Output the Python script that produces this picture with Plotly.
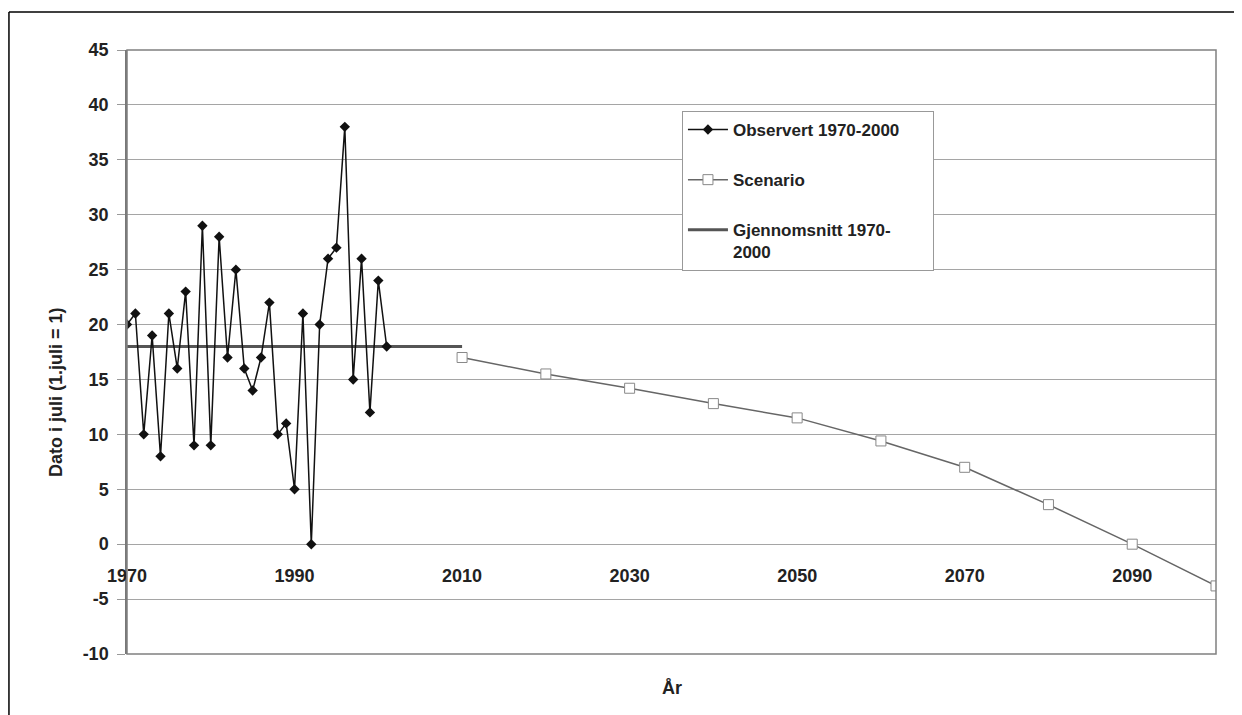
import plotly.graph_objects as go

# ---- data ----
obs_years = list(range(1970, 2002))
obs_values = [20, 21, 10, 19, 8, 21, 16, 23, 9, 29, 9, 28, 17, 25, 16, 14,
              17, 22, 10, 11, 5, 21, 0, 20, 26, 27, 38, 15, 26, 12, 24, 18]

scen_years = [2010, 2020, 2030, 2040, 2050, 2060, 2070, 2080, 2090, 2100]
scen_values = [17, 15.5, 14.2, 12.8, 11.5, 9.4, 7.0, 3.6, 0, -3.8]

avg_years = [1970, 2010]
avg_values = [18, 18]

x_ticks = [1970, 1990, 2010, 2030, 2050, 2070, 2090]
y_ticks = list(range(-10, 50, 5))
y_ticktext = [str(v) for v in y_ticks]  # plain hyphen minus like the original

FONT = "Arial, Liberation Sans, sans-serif"
NB = "\u00a0"

fig = go.Figure()

fig.add_trace(go.Scatter(
    x=avg_years, y=avg_values, mode="lines",
    name="Gjennomsnitt 1970-<br>2000",
    line=dict(color="#555555", width=3),
    legendrank=3, legendgroup="c",
))
fig.add_trace(go.Scatter(
    x=obs_years, y=obs_values, mode="lines+markers",
    name="Observert 1970-2000" + NB * 6,
    line=dict(color="#111111", width=1.5),
    marker=dict(symbol="diamond", size=8, color="#111111"),
    legendrank=1, legendgroup="a",
))
fig.add_trace(go.Scatter(
    x=scen_years, y=scen_values, mode="lines+markers",
    name="Scenario",
    line=dict(color="#666666", width=1.5),
    marker=dict(symbol="square", size=10, color="white",
                line=dict(color="#888888", width=1)),
    legendrank=2, legendgroup="b",
))

# page body has an 8px margin: shrink figure and margins accordingly
fig.update_layout(
    width=1234, height=707,
    margin=dict(l=119, r=26, t=42, b=61),
    paper_bgcolor="white", plot_bgcolor="white",
    font=dict(family=FONT, size=18, color="#222222", weight="bold"),
    showlegend=True,
    legend=dict(
        x=0.5096, y=0.899, xanchor="left", yanchor="top",
        bgcolor="white", bordercolor="#999999", borderwidth=1,
        font=dict(family=FONT, size=17, color="#222222", weight="bold"),
        tracegroupgap=25, itemwidth=40, valign="top",
        traceorder="grouped",
    ),
    xaxis=dict(
        range=[1970, 2100], tickvals=x_ticks, ticktext=[str(t) for t in x_ticks],
        showgrid=False, zeroline=False, showline=False,
        anchor="free", position=10 / 55,
        ticks="outside", ticklen=15, tickcolor="rgba(0,0,0,0)",
        tickfont=dict(family=FONT, size=18, color="#222222", weight="bold"),
    ),
    yaxis=dict(
        range=[-10, 45], tickvals=y_ticks, ticktext=y_ticktext,
        showgrid=True, gridcolor="#a5a5a5", gridwidth=1.2,
        zeroline=False,
        showline=True, linecolor="#777777", linewidth=1.5,
        ticks="outside", ticklen=8, tickcolor="#999999",
        ticklabelstandoff=5,
        tickfont=dict(family=FONT, size=18, color="#222222", weight="bold"),
    ),
    annotations=[
        dict(text="Dato i juli (1.juli = 1)", textangle=-90,
             xref="paper", yref="paper", x=-0.0652, y=0.4338,
             showarrow=False, xanchor="center", yanchor="middle",
             font=dict(family=FONT, size=18, color="#222222", weight="bold")),
        dict(text="År", xref="paper", yref="paper", x=0.5005, y=-0.0563,
             showarrow=False, xanchor="center", yanchor="middle",
             font=dict(family=FONT, size=18, color="#222222", weight="bold")),
    ],
    shapes=[
        # plot-area frame
        dict(type="rect", xref="paper", yref="paper", x0=0, y0=0, x1=1, y1=1,
             line=dict(color="#808080", width=1.5), layer="above"),
        # outer black frame (top and left)
        dict(type="line", xref="paper", yref="paper",
             x0=-0.1084, x1=1.03, y0=1.0629, y1=1.0629,
             line=dict(color="black", width=1.5)),
        dict(type="line", xref="paper", yref="paper",
             x0=-0.1084, x1=-0.1084, y0=1.0629, y1=-0.11,
             line=dict(color="black", width=1.5)),
    ],
)

fig.write_html("out.html")
